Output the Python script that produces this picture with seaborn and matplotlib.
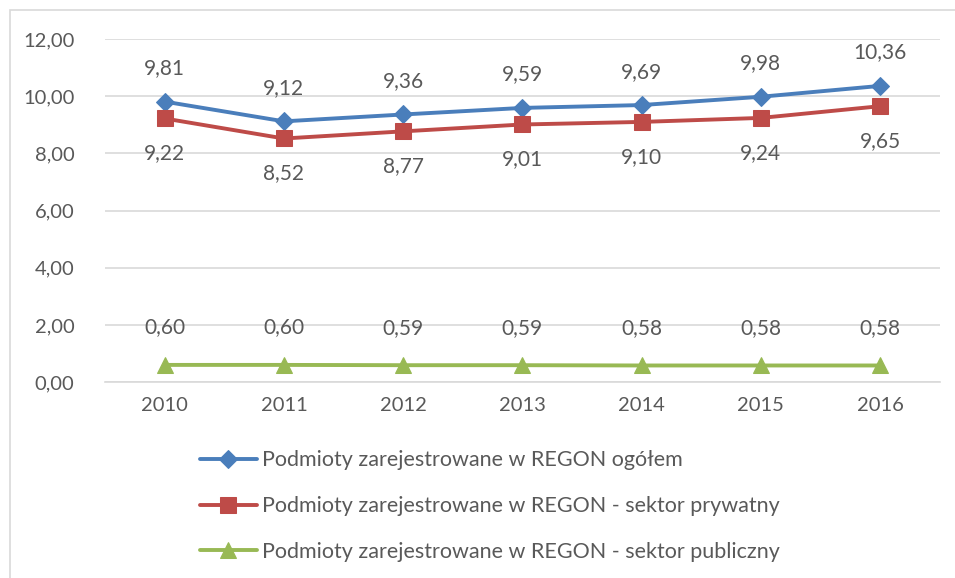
import pandas as pd
import numpy as np
import matplotlib.pyplot as plt
import seaborn as sns
from matplotlib.patches import Rectangle
from matplotlib.ticker import FuncFormatter

# dane
years = ['2010', '2011', '2012', '2013', '2014', '2015', '2016']
ogolem = [9.81, 9.12, 9.36, 9.59, 9.69, 9.98, 10.36]
prywatny = [9.22, 8.52, 8.77, 9.01, 9.10, 9.24, 9.65]
publiczny = [0.60, 0.60, 0.59, 0.59, 0.58, 0.58, 0.58]

names = ['Podmioty zarejestrowane w REGON ogółem',
         'Podmioty zarejestrowane w REGON - sektor prywatny',
         'Podmioty zarejestrowane w REGON - sektor publiczny']
colors = ['#4A7EBB', '#BE4B48', '#98B954']
markers = ['D', 's', '^']
msizes = [9, 11, 11]

df = pd.DataFrame({
    'rok': list(range(len(years))) * 3,
    'wartosc': ogolem + prywatny + publiczny,
    'seria': [names[0]] * 7 + [names[1]] * 7 + [names[2]] * 7,
})

sns.set_theme(style='white')
plt.rcParams['font.family'] = ['Lato', 'DejaVu Sans']
txt = '#595959'

fig = plt.figure(figsize=(9.55, 5.78), dpi=100)
ax = fig.add_axes([0.110, 0.339, 0.874, 0.5935])

for i, name in enumerate(names):
    sub = df[df['seria'] == name]
    sns.lineplot(data=sub, x='rok', y='wartosc', ax=ax, color=colors[i],
                 marker=markers[i], markersize=msizes[i], linewidth=2.8,
                 markeredgecolor=colors[i], label=name, legend=False)

# etykiety danych
series = [ogolem, prywatny, publiczny]
offsets = [24, -25, 27]
for vals, off in zip(series, offsets):
    for x, v in enumerate(vals):
        ax.annotate(f'{v:.2f}'.replace('.', ','), (x, v), xytext=(0, off),
                    textcoords='offset points', ha='center', va='center',
                    fontsize=15, color=txt)

ax.set_xlim(-0.5, 6.5)
ax.set_ylim(0, 12)
ax.set_yticks(np.arange(0, 13, 2))
ax.yaxis.set_major_formatter(FuncFormatter(lambda v, p: f'{v:.2f}'.replace('.', ',')))
ax.set_xticks(range(len(years)))
ax.set_xticklabels(years)
ax.tick_params(axis='both', colors=txt, labelsize=14.5, length=0)
ax.tick_params(axis='x', pad=11)
ax.tick_params(axis='y', pad=22)
ax.grid(axis='y', color='#D9D9D9', linewidth=1.2)
ax.set_xlabel('')
ax.set_ylabel('')
for s in ['top', 'right', 'left']:
    ax.spines[s].set_visible(False)
ax.spines['bottom'].set_color('#D9D9D9')
ax.spines['bottom'].set_linewidth(1.2)

handles, labels = ax.get_legend_handles_labels()
leg = fig.legend(handles, labels, loc='upper left', bbox_to_anchor=(0.209, 0.221),
                 frameon=False, fontsize=15.5, handlelength=2.65, labelspacing=1.2,
                 handletextpad=0.25, borderaxespad=0, borderpad=0)
for t in leg.get_texts():
    t.set_color(txt)

fig.patches.append(Rectangle((10 / 955, -0.01), 1.0, 1 - 10 / 578 + 0.01,
                             transform=fig.transFigure, fill=False,
                             edgecolor='#D9D9D9', linewidth=1.2))

fig.savefig('out.png', dpi=100)
